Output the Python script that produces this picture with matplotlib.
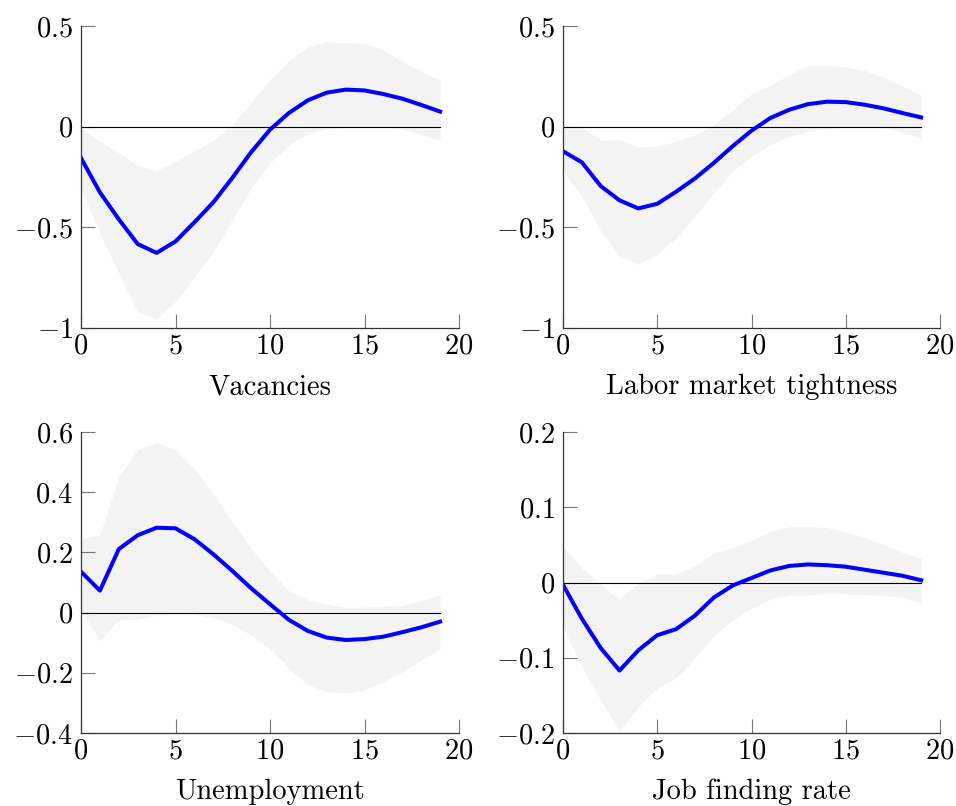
import numpy as np
import matplotlib
matplotlib.use("Agg")
import matplotlib.pyplot as plt

plt.rcParams["font.family"] = "cmr10"
plt.rcParams["mathtext.fontset"] = "cm"
plt.rcParams["axes.formatter.use_mathtext"] = True

horizon = list(range(20))

# impulse responses with lower / upper bands
vac_mid = [-0.156, -0.326, -0.46, -0.583, -0.627, -0.57, -0.475, -0.376, -0.255, -0.127,
           -0.015, 0.068, 0.131, 0.169, 0.184, 0.18, 0.162, 0.139, 0.108, 0.075]
vac_hi = [-0.007, -0.073, -0.13, -0.192, -0.218, -0.172, -0.122, -0.068, 0.01, 0.12,
          0.233, 0.328, 0.394, 0.422, 0.416, 0.414, 0.379, 0.325, 0.275, 0.228]
vac_lo = [-0.31, -0.528, -0.727, -0.92, -0.955, -0.868, -0.747, -0.62, -0.462, -0.305,
          -0.18, -0.09, -0.036, -0.012, -0.002, 0.0, 0.0, -0.012, -0.04, -0.068]

tight_mid = [-0.122, -0.177, -0.295, -0.366, -0.406, -0.383, -0.323, -0.257, -0.18, -0.097,
             -0.02, 0.043, 0.084, 0.112, 0.124, 0.122, 0.109, 0.091, 0.068, 0.046]
tight_hi = [-0.012, -0.003, -0.068, -0.064, -0.102, -0.097, -0.073, -0.04, 0.01, 0.084,
            0.163, 0.203, 0.257, 0.304, 0.307, 0.295, 0.279, 0.246, 0.2, 0.155]
tight_lo = [-0.221, -0.345, -0.518, -0.639, -0.683, -0.634, -0.551, -0.444, -0.328, -0.221,
            -0.147, -0.089, -0.048, -0.023, -0.012, -0.003, 0.0, -0.003, -0.028, -0.059]

unemp_mid = [0.136, 0.073, 0.211, 0.257, 0.282, 0.28, 0.244, 0.194, 0.139, 0.081,
             0.028, -0.024, -0.061, -0.083, -0.091, -0.088, -0.08, -0.065, -0.049, -0.03]
unemp_hi = [0.245, 0.257, 0.451, 0.541, 0.565, 0.539, 0.478, 0.392, 0.302, 0.213,
            0.136, 0.072, 0.042, 0.028, 0.017, 0.018, 0.02, 0.023, 0.04, 0.059]
unemp_lo = [0.009, -0.093, -0.024, -0.022, -0.008, -0.002, -0.006, -0.017, -0.038, -0.074,
            -0.118, -0.185, -0.24, -0.262, -0.267, -0.256, -0.229, -0.196, -0.157, -0.122]

jfr_mid = [-0.003, -0.048, -0.087, -0.117, -0.09, -0.07, -0.062, -0.044, -0.02, -0.004,
           0.006, 0.016, 0.022, 0.024, 0.023, 0.021, 0.017, 0.013, 0.009, 0.003]
jfr_hi = [0.048, 0.019, -0.003, -0.022, -0.001, 0.011, 0.011, 0.022, 0.039, 0.046,
          0.056, 0.068, 0.074, 0.074, 0.073, 0.067, 0.06, 0.05, 0.04, 0.032]
jfr_lo = [-0.059, -0.112, -0.156, -0.198, -0.165, -0.14, -0.127, -0.1, -0.071, -0.05,
          -0.034, -0.022, -0.017, -0.017, -0.014, -0.015, -0.016, -0.017, -0.02, -0.027]

titles = ["Vacancies", "Labor market tightness", "Unemployment", "Job finding rate"]
yticks = [[-1, -0.5, 0, 0.5], [-1, -0.5, 0, 0.5],
          [-0.4, -0.2, 0, 0.2, 0.4, 0.6], [-0.2, -0.1, 0, 0.1, 0.2]]
ylims = [(-1, 0.5), (-1, 0.5), (-0.4, 0.6), (-0.2, 0.2)]
series = [(vac_mid, vac_lo, vac_hi), (tight_mid, tight_lo, tight_hi),
          (unemp_mid, unemp_lo, unemp_hi), (jfr_mid, jfr_lo, jfr_hi)]

fig = plt.figure(figsize=(9.56, 8.06), dpi=100)
W, H = 956, 806
boxes = [(81, 26, 459, 328), (563, 26, 940, 328),
         (81, 432, 459, 733), (563, 432, 940, 733)]


def fmt(v):
    if v == 0:
        return "$0$"
    s = ("%g" % abs(v))
    return "$%s%s$" % ("-" if v < 0 else "", s)


for (x0, y0, x1, y1), (mid, lo, hi), title, yt, yl in zip(boxes, series, titles, yticks, ylims):
    ax = fig.add_axes([x0 / W, 1 - y1 / H, (x1 - x0) / W, (y1 - y0) / H])
    ax.fill_between(horizon, lo, hi, color="#f3f3f3", linewidth=0)
    ax.plot([0, 19], [0, 0], color="black", linewidth=0.8)
    ax.plot(horizon, mid, color="#0000ff", linewidth=2.9, solid_joinstyle="round")
    ax.set_xlim(0, 20)
    ax.set_ylim(*yl)
    ax.set_xticks([0, 5, 10, 15, 20])
    ax.set_xticklabels([fmt(v) for v in [0, 5, 10, 15, 20]])
    ax.set_yticks(yt)
    ax.set_yticklabels([fmt(v) for v in yt])
    for side in ["top", "right"]:
        ax.spines[side].set_visible(False)
    for side in ["left", "bottom"]:
        ax.spines[side].set_color("#333333")
        ax.spines[side].set_linewidth(0.9)
    ax.tick_params(direction="in", length=10, width=0.8, color="#777777",
                   labelsize=20.5, pad=6)
    ax.tick_params(axis="x", pad=4)
    ax.set_xlabel(title, fontsize=20.5, labelpad=10)

fig.savefig("out.png", dpi=100)
